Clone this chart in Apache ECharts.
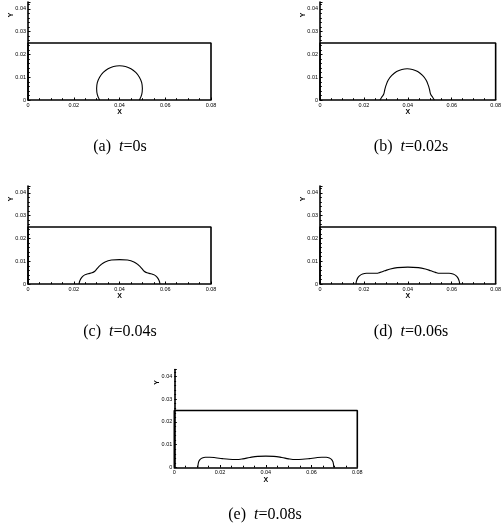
<!DOCTYPE html>
<html>
<head>
<meta charset="utf-8">
<script src="https://cdn.jsdelivr.net/npm/echarts@6/dist/echarts.min.js"></script>
<style>html,body{margin:0;padding:0;background:#fff}#c{width:504px;height:529px}</style>
</head>
<body>
<div id="c"></div>
<script>
// ---- data ----
const xTicks = ['0', '0.02', '0.04', '0.06', '0.08'];
const yTicks = ['0', '0.01', '0.02', '0.03', '0.04'];
const captions = ['(a)  {i|t}=0s', '(b)  {i|t}=0.02s', '(c)  {i|t}=0.04s', '(d)  {i|t}=0.06s', '(e)  {i|t}=0.08s'];

// domain box
const boxX = [0, 0, 0.08, 0.08];
const boxY = [0, 0.025, 0.025, 0];

// t = 0 s
const aX = [0.0313, 0.0303, 0.0300, 0.0303, 0.0313, 0.0329, 0.0350, 0.0374, 0.0400, 0.0426, 0.0450, 0.0471, 0.0487, 0.0497, 0.0500, 0.0497, 0.0487];
const aY = [0.0000, 0.0024, 0.0050, 0.0076, 0.0100, 0.0121, 0.0137, 0.0147, 0.0150, 0.0147, 0.0137, 0.0121, 0.0100, 0.0076, 0.0050, 0.0024, 0.0000];
// t = 0.02 s
const bX = [0.0273, 0.0281, 0.0290, 0.0295, 0.0301, 0.0311, 0.0327, 0.0349, 0.0373, 0.0397, 0.0421, 0.0445, 0.0467, 0.0483, 0.0493, 0.0499, 0.0504, 0.0513, 0.0521];
const bY = [0.0000, 0.0012, 0.0025, 0.0045, 0.0065, 0.0088, 0.0108, 0.0125, 0.0134, 0.0137, 0.0134, 0.0125, 0.0108, 0.0088, 0.0065, 0.0045, 0.0025, 0.0012, 0.0000];
// t = 0.04 s
const cX = [0.0223, 0.0227, 0.0236, 0.0248, 0.0263, 0.0280, 0.0292, 0.0303, 0.0317, 0.0337, 0.0365, 0.0400, 0.0435, 0.0463, 0.0483, 0.0497, 0.0508, 0.0520, 0.0537, 0.0552, 0.0564, 0.0573, 0.0577];
const cY = [0.0000, 0.0015, 0.0030, 0.0040, 0.0045, 0.0049, 0.0056, 0.0069, 0.0083, 0.0097, 0.0105, 0.0107, 0.0105, 0.0097, 0.0083, 0.0069, 0.0056, 0.0049, 0.0045, 0.0040, 0.0030, 0.0015, 0.0000];
// t = 0.06 s
const dX = [0.0164, 0.0166, 0.0172, 0.0181, 0.0194, 0.0212, 0.0235, 0.0256, 0.0274, 0.0295, 0.0320, 0.0352, 0.0400, 0.0448, 0.0480, 0.0505, 0.0526, 0.0544, 0.0565, 0.0588, 0.0606, 0.0619, 0.0628, 0.0634, 0.0636];
const dY = [0.0000, 0.0013, 0.0027, 0.0037, 0.0044, 0.0047, 0.0047, 0.0047, 0.0051, 0.0058, 0.0066, 0.0072, 0.0074, 0.0072, 0.0066, 0.0058, 0.0051, 0.0047, 0.0047, 0.0047, 0.0044, 0.0037, 0.0027, 0.0013, 0.0000];
// t = 0.08 s
const eX = [0.0103, 0.0104, 0.0107, 0.0113, 0.0122, 0.0136, 0.0155, 0.0180, 0.0210, 0.0240, 0.0270, 0.0300, 0.0330, 0.0365, 0.0400, 0.0435, 0.0470, 0.0500, 0.0530, 0.0560, 0.0590, 0.0620, 0.0645, 0.0664, 0.0678, 0.0687, 0.0693, 0.0696, 0.0697];
const eY = [0.0000, 0.0013, 0.0026, 0.0036, 0.0042, 0.0045, 0.0045, 0.0043, 0.0039, 0.0036, 0.0035, 0.0038, 0.0044, 0.0049, 0.0050, 0.0049, 0.0044, 0.0038, 0.0035, 0.0036, 0.0039, 0.0043, 0.0045, 0.0045, 0.0042, 0.0036, 0.0026, 0.0013, 0.0000];

const shapesX = [aX, bX, cX, dX, eX];
const shapesY = [aY, bY, cY, dY, eY];

// ---- layout ----
const grids = [
  { left: 28, top: 2, width: 183, height: 98 },
  { left: 320, top: 2, width: 183, height: 98 },
  { left: 28, top: 186, width: 183, height: 98 },
  { left: 320, top: 186, width: 183, height: 98 },
  { left: 174.3, top: 369.5, width: 183, height: 98 }
];
const capPos = [[120, 147], [411, 147], [120, 332], [411, 332], [265, 515]];

const zip = (xs, ys) => xs.map((x, i) => [x, ys[i]]);
const fmt = (list) => (v) => {
  const s = list.find(t => Math.abs(parseFloat(t) - v) < 1e-9);
  return s === undefined ? '' : s;
};

const axisFont = 'Liberation Sans';
const xAxes = [], yAxes = [], series = [], graphics = [];
grids.forEach((g, i) => {
  xAxes.push({
    gridIndex: i, type: 'value', min: 0, max: 0.08, interval: 0.02,
    name: 'X', nameLocation: 'middle', nameGap: 9,
    nameTextStyle: { fontFamily: axisFont, fontSize: 7, fontWeight: 'bold', color: '#000' },
    axisLine: { show: true, onZero: false, lineStyle: { color: '#000', width: 1.6 } },
    axisTick: { show: true, inside: true, length: 2.5, lineStyle: { color: '#000', width: 1 } },
    minorTick: { show: true, splitNumber: 4, length: 1.8, lineStyle: { color: '#000', width: 1 } },
    axisLabel: { show: true, margin: 2, fontFamily: axisFont, fontSize: 5.5, color: '#000', formatter: fmt(xTicks), hideOverlap: false },
    splitLine: { show: false }
  });
  yAxes.push({
    gridIndex: i, type: 'value', min: 0, max: 0.043, interval: 0.01,
    axisLine: { show: true, onZero: false, lineStyle: { color: '#000', width: 1.6 } },
    axisTick: { show: true, inside: true, length: 2.5, lineStyle: { color: '#000', width: 1 } },
    minorTick: { show: true, splitNumber: 5, length: 1.8, lineStyle: { color: '#000', width: 1 } },
    axisLabel: { show: true, margin: 2, fontFamily: axisFont, fontSize: 5.5, color: '#000', formatter: fmt(yTicks), showMaxLabel: false },
    splitLine: { show: false }
  });
  series.push({
    type: 'line', xAxisIndex: i, yAxisIndex: i, data: zip(boxX, boxY),
    symbol: 'none', lineStyle: { color: '#000', width: 1.6 }, silent: true, clip: false, animation: false
  });
  series.push({
    type: 'line', xAxisIndex: i, yAxisIndex: i, data: zip(shapesX[i], shapesY[i]),
    symbol: 'none', smooth: 0.4, lineStyle: { color: '#000', width: 1.1 }, silent: true, clip: false, animation: false
  });
  graphics.push({
    type: 'text', x: g.left - 17, y: g.top + 13, rotation: Math.PI / 2,
    style: { text: 'Y', fontFamily: axisFont, fontSize: 7, fontWeight: 'bold', fill: '#000', align: 'center', verticalAlign: 'middle' }
  });
  graphics.push({
    type: 'text', x: capPos[i][0], y: capPos[i][1],
    style: {
      text: captions[i], fontFamily: 'Liberation Serif', fontSize: 16, fill: '#000', align: 'center', verticalAlign: 'middle',
      rich: { i: { fontStyle: 'italic', fontFamily: 'Liberation Serif', fontSize: 16, fill: '#000' } }
    }
  });
});

const chart = echarts.init(document.getElementById('c'), null, { renderer: 'canvas' });
chart.setOption({
  animation: false,
  backgroundColor: '#fff',
  grid: grids,
  xAxis: xAxes,
  yAxis: yAxes,
  series: series,
  graphic: graphics
});
</script>
</body>
</html>
